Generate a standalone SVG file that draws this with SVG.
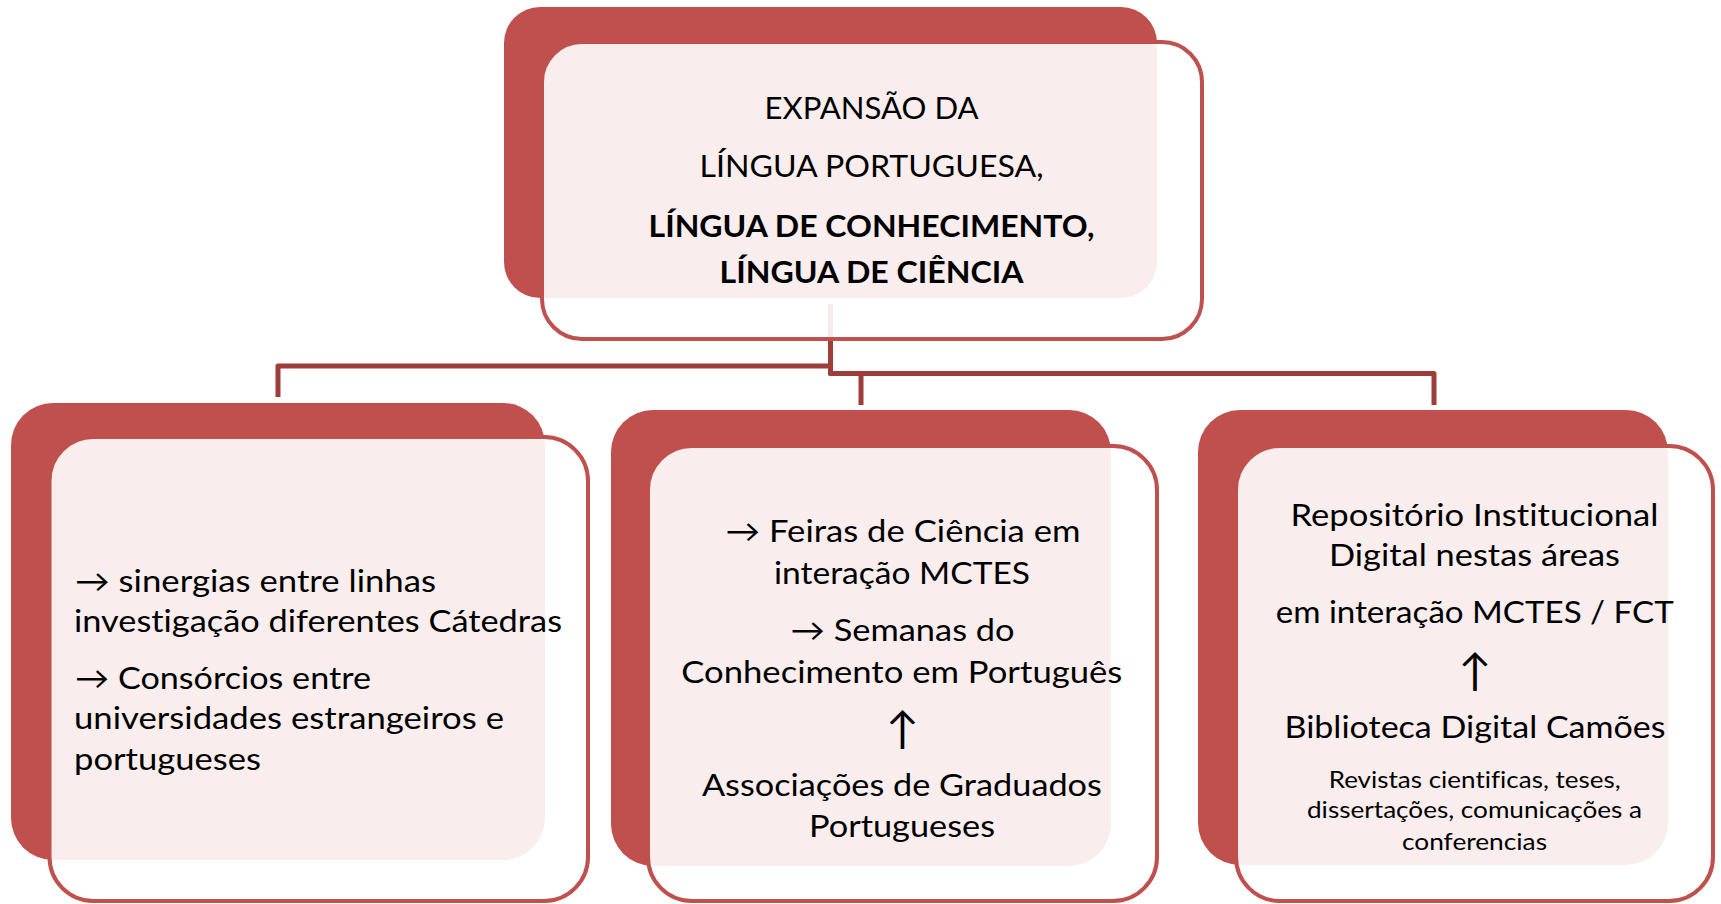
<svg xmlns="http://www.w3.org/2000/svg" width="1721" height="904" viewBox="0 0 1721 904">
<style>
.back{fill:#c0504d;}
.front{fill:#ffffff;fill-opacity:0.9;stroke:#c0504d;stroke-width:4;}
.conn{fill:none;stroke:#9e3e3c;stroke-width:5;stroke-linejoin:round;}
text{font-family:Lato,"DejaVu Sans",sans-serif;font-size:31px;fill:#000;font-variant-ligatures:none;font-feature-settings:"liga" 0,"dlig" 0;}
.c{text-anchor:middle;}
.b{font-weight:bold;}
.s{font-size:23.5px;}
.arr{font-family:Lato,"DejaVu Sans",sans-serif;font-size:44px;text-anchor:middle;}
</style>
<rect width="1721" height="904" fill="#ffffff"/>
<g id="connectors">
<path class="conn" d="M830.5 304 V366 H278 V397"/>
<path class="conn" d="M830.5 304 V373.5 H861 V405"/>
<path class="conn" d="M830.5 304 V373.5 H1434 V405"/>
</g>
<g id="node-top">
<rect class="back" x="504" y="7" width="653" height="291" rx="36" ry="36"/>
<rect class="front" x="542" y="42" width="660" height="297" rx="40" ry="40"/>
<text class="c" x="871.5" y="119.3" textLength="214" lengthAdjust="spacingAndGlyphs">EXPANSÃO DA</text>
<text class="c" x="871.5" y="176.7" textLength="344" lengthAdjust="spacingAndGlyphs">LÍNGUA PORTUGUESA,</text>
<text class="c b" x="871.5" y="237.3" textLength="446" lengthAdjust="spacingAndGlyphs">LÍNGUA DE CONHECIMENTO,</text>
<text class="c b" x="871.5" y="283.3" textLength="304" lengthAdjust="spacingAndGlyphs">LÍNGUA DE CIÊNCIA</text>
</g>
<g id="node-left">
<rect class="back" x="11" y="403" width="534" height="457" rx="42" ry="42"/>
<rect class="front" x="49.5" y="437" width="538.5" height="464" rx="44" ry="44"/>
<text x="75" y="591.7" textLength="361" lengthAdjust="spacingAndGlyphs">→ sinergias entre linhas</text>
<text x="74" y="631.7" textLength="488" lengthAdjust="spacingAndGlyphs">investigação diferentes Cátedras</text>
<text x="75" y="689" textLength="296" lengthAdjust="spacingAndGlyphs">→ Consórcios entre</text>
<text x="74" y="729.3" textLength="430" lengthAdjust="spacingAndGlyphs">universidades estrangeiros e</text>
<text x="74" y="769.5" textLength="187" lengthAdjust="spacingAndGlyphs">portugueses</text>
</g>
<g id="node-middle">
<rect class="back" x="611" y="410" width="500" height="456" rx="42" ry="42"/>
<rect class="front" x="648" y="446" width="509" height="455" rx="44" ry="44"/>
<text class="c" x="903" y="541.7" textLength="355" lengthAdjust="spacingAndGlyphs">→ Feiras de Ciência em</text>
<text class="c" x="902" y="583.5" textLength="256" lengthAdjust="spacingAndGlyphs">interação MCTES</text>
<text class="c" x="902.6" y="640.7" textLength="224" lengthAdjust="spacingAndGlyphs">→ Semanas do</text>
<text class="c" x="901.8" y="682.7" textLength="441" lengthAdjust="spacingAndGlyphs">Conhecimento em Português</text>
<text class="arr" x="902.3" y="744">↑</text>
<text class="c" x="901.9" y="796" textLength="400" lengthAdjust="spacingAndGlyphs">Associações de Graduados</text>
<text class="c" x="902" y="836.7" textLength="186" lengthAdjust="spacingAndGlyphs">Portugueses</text>
</g>
<g id="node-right">
<rect class="back" x="1198" y="410" width="470" height="455" rx="42" ry="42"/>
<rect class="front" x="1236" y="446" width="477" height="455" rx="44" ry="44"/>
<text class="c" x="1474.5" y="526.3" textLength="368" lengthAdjust="spacingAndGlyphs">Repositório Institucional</text>
<text class="c" x="1474.5" y="566" textLength="291" lengthAdjust="spacingAndGlyphs">Digital nestas áreas</text>
<text class="c" x="1474.7" y="623.3" textLength="398" lengthAdjust="spacingAndGlyphs">em interação MCTES / FCT</text>
<text class="arr" x="1474.7" y="686">↑</text>
<text class="c" x="1475" y="738.3" textLength="381" lengthAdjust="spacingAndGlyphs">Biblioteca Digital Camões</text>
<text class="c s" x="1474.7" y="788.3" textLength="292" lengthAdjust="spacingAndGlyphs">Revistas cientificas, teses,</text>
<text class="c s" x="1474.5" y="818.3" textLength="335" lengthAdjust="spacingAndGlyphs">dissertações, comunicações a</text>
<text class="c s" x="1474.5" y="849.5" textLength="145" lengthAdjust="spacingAndGlyphs">conferencias</text>
</g>
</svg>
